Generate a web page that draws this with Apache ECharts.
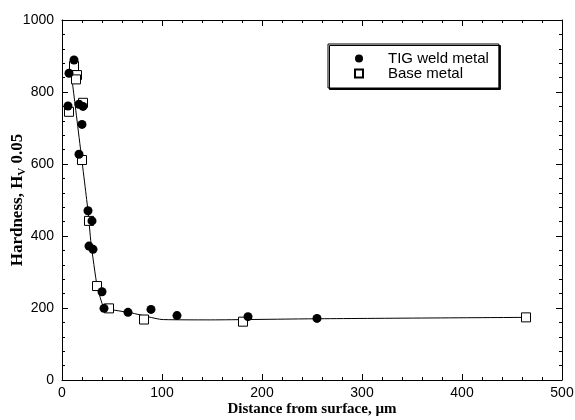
<!DOCTYPE html>
<html>
<head>
<meta charset="utf-8">
<script src="https://cdn.jsdelivr.net/npm/echarts@6/dist/echarts.min.js"></script>
<style>
	html, body { margin: 0; padding: 0; background: #fff; }
	#chart { width: 575px; height: 420px; }
</style>
</head>
<body>
<div id="chart"></div>
<script>
// TIG weld metal (filled circles): [distance um, hardness]
const tigWeld = [
	[12, 889], [7, 852], [6, 761], [17, 766], [21, 760], [20, 710], [17, 627],
	[26, 470], [30, 442], [27, 372], [31, 363], [40, 245], [42, 199],
	[66, 188], [89, 196], [115, 179], [186, 176], [255, 171]
]

// Base metal (open squares)
const baseMetal = [
	[12, 872], [15, 847], [14, 835], [7, 745], [21, 770], [20, 611],
	[27, 442], [35, 261], [47, 199], [82, 168], [181, 162], [464, 174]
]

// fitted trend line
const trendLine = [
	[10, 835], [26, 470], [29, 380], [35, 262], [40, 213], [43, 198],
	[50, 195], [70, 186], [100, 168], [150, 167], [250, 170], [464, 174]
]

const xTicks = [0, 100, 200, 300, 400, 500]
const yTicks = [0, 200, 400, 600, 800, 1000]

const chart = echarts.init(document.getElementById('chart'))

const labelFont = { color: '#000', fontFamily: 'Liberation Sans', fontSize: 14 }
const frameAxis = () => ({
	axisLine: { show: true, onZero: false, lineStyle: { color: '#000', width: 1 } },
	axisTick: { show: true, inside: true, length: 6, lineStyle: { color: '#000' } },
	minorTick: { show: true, splitNumber: 5, length: 3, lineStyle: { color: '#000' } },
	splitLine: { show: false },
})

const option = {
	animation: false,
	backgroundColor: '#fff',
	grid: { left: 62, right: 13, top: 20, bottom: 40, outerBoundsMode: 'none', containLabel: false },
	legend: {
		orient: 'vertical',
		left: 328,
		top: 44,
		padding: [7, 10, 7, 26],
		itemGap: 0,
		itemWidth: 8,
		itemHeight: 8,
		borderColor: '#000',
		borderWidth: 1,
		shadowColor: '#000',
		shadowOffsetX: 1.5,
		shadowOffsetY: 1.5,
		shadowBlur: 0,
		backgroundColor: '#fff',
		textStyle: { color: '#000', fontFamily: 'Liberation Sans', fontSize: 15, lineHeight: 15, padding: [0, 0, 0, 20] },
		data: ['TIG weld metal', 'Base metal'],
	},
	xAxis: [
		Object.assign(frameAxis(), {
			type: 'value',
			min: 0, max: 500, interval: 100,
			axisLabel: Object.assign({ margin: 6, formatter: (v) => (xTicks.includes(v) ? v : '') }, labelFont),
			name: 'Distance from surface, µm',
			nameLocation: 'middle',
			nameGap: 22,
			nameMoveOverlap: false,
			nameTextStyle: { color: '#000', fontFamily: 'Liberation Serif', fontWeight: 'bold', fontSize: 15 },
		}),
		Object.assign(frameAxis(), {
			type: 'value', position: 'top',
			min: 0, max: 500, interval: 100,
			axisLabel: { show: false },
		}),
	],
	yAxis: [
		Object.assign(frameAxis(), {
			type: 'value',
			min: 0, max: 1000, interval: 200,
			axisLabel: Object.assign({ margin: 8, formatter: (v) => (yTicks.includes(v) ? v : '') }, labelFont),
			name: '{a|Hardness, H}{s|V}{a| 0.05}',
			nameLocation: 'middle',
			nameGap: 34,
			nameMoveOverlap: false,
			nameTextStyle: {
				rich: {
					a: { color: '#000', fontFamily: 'Liberation Serif', fontWeight: 'bold', fontSize: 17 },
					s: { color: '#000', fontFamily: 'Liberation Serif', fontWeight: 'bold', fontSize: 11, padding: [9, 0, 0, 0] },
				},
			},
		}),
		Object.assign(frameAxis(), {
			type: 'value', position: 'right',
			min: 0, max: 1000, interval: 200,
			axisLabel: { show: false },
		}),
	],
	series: [
		{
			name: 'trend',
			type: 'line',
			data: trendLine,
			showSymbol: false,
			smooth: 0.15,
			lineStyle: { color: '#000', width: 1 },
			z: 1,
		},
		{
			name: 'TIG weld metal',
			type: 'scatter',
			data: tigWeld,
			symbol: 'circle',
			symbolSize: 9,
			itemStyle: { color: '#000', opacity: 1 },
			z: 3,
		},
		{
			name: 'Base metal',
			type: 'scatter',
			data: baseMetal,
			symbol: 'rect',
			symbolSize: 9,
			itemStyle: { color: '#fff', borderColor: '#000', borderWidth: 1, opacity: 1 },
			z: 2,
		},
	],
}

chart.setOption(option)
</script>
</body>
</html>
